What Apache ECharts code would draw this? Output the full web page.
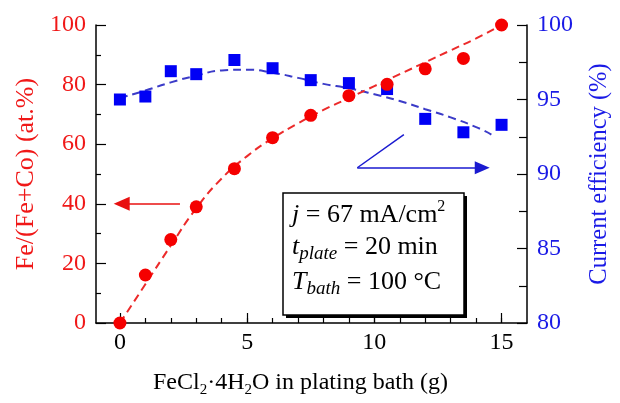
<!DOCTYPE html>
<html><head><meta charset="utf-8">
<script src="https://cdn.jsdelivr.net/npm/echarts@6/dist/echarts.min.js"></script>
<style>html,body{margin:0;padding:0;background:#fff}#c{width:620px;height:403px}</style>
</head><body><div id="c"></div>
<script>
// ---- data ----
const feclGrams = [0, 1, 2, 3, 4.5, 6, 7.5, 9, 10.5, 12, 13.5, 15];
const feContent = [0, 16.1, 28, 39, 51.8, 62.2, 69.7, 76.3, 80.1, 85.3, 88.8, 100];
const currentEff = [95.0, 95.2, 96.9, 96.7, 97.65, 97.1, 96.3, 96.1, 95.7, 93.7, 92.8, 93.3];
const feFitX = [0, 1, 2, 3, 4, 5, 6, 7, 8, 9, 10, 11, 12, 13, 14, 15];
const feFitY = [0, 13, 26, 38.5, 48.5, 56, 62, 67, 71.5, 75.5, 79.5, 83.5, 87.5, 91.5, 95.5, 100];
const ceFitX = [0, 1, 2, 3, 4, 5, 6, 7, 8, 9, 10, 11, 12, 13, 14, 14.6];
const ceFitY = [95.1, 95.6, 96.15, 96.6, 96.95, 97.0, 96.8, 96.45, 96.05, 95.75, 95.35, 94.9, 94.35, 93.8, 93.15, 92.65];
const xMajorTicks = [0, 5, 10, 15];
const xMinorTicks = [0, 1, 2, 3, 4, 5, 6, 7, 8, 9, 10, 11, 12, 13, 14, 15];
const redArrow = [[2.36, 40], [0.07, 40]];
const blueArrowDiag = [[11.16, 92.65], [9.33, 90.42]];
const blueArrow = [[9.33, 90.42], [14.24, 90.42]];

const pair = (xs, ys) => xs.map((x, i) => [x, ys[i]]);
const FONT = '"Liberation Serif", "DejaVu Serif", serif';
const RED = '#f01818', BLUE = '#1a1ae6';

const chart = echarts.init(document.getElementById('c'));
const xBase = {
  type: 'value', min: -0.94, max: 16, position: 'bottom',
  splitLine: { show: false }
};
chart.setOption({
  animation: false,
  grid: { left: 96, right: 93, top: 25, bottom: 71 },
  xAxis: [
    Object.assign({}, xBase, {
      axisLine: { onZero: false, lineStyle: { color: '#000', width: 1.5 } },
      axisTick: { inside: true, length: 10, customValues: xMajorTicks, lineStyle: { color: '#000', width: 1.2 } },
      axisLabel: { customValues: xMajorTicks, color: '#000', fontFamily: FONT, fontSize: 24, margin: 8 },
      name: '{n|FeCl}{s|2}{n|·4H}{s|2}{n|O in plating bath (g)}',
      nameLocation: 'middle', nameGap: 45,
      nameTextStyle: {
        padding: [0, 22, 0, 0],
        rich: {
          n: { fontFamily: FONT, fontSize: 24, color: '#000', lineHeight: 30 },
          s: { fontFamily: FONT, fontSize: 15, color: '#000', lineHeight: 14, verticalAlign: 'bottom' }
        }
      }
    }),
    Object.assign({}, xBase, {
      axisLine: { show: false, onZero: false },
      axisTick: { inside: true, length: 5, customValues: xMinorTicks, lineStyle: { color: '#000', width: 1.2 } },
      axisLabel: { show: false }
    })
  ],
  yAxis: [
    {
      type: 'value', min: 0, max: 100, interval: 20, position: 'left',
      splitLine: { show: false },
      axisLine: { show: true, onZero: false, lineStyle: { color: '#000', width: 1.5 } },
      axisTick: { show: true, inside: true, length: 10, lineStyle: { color: '#000', width: 1.2 } },
      minorTick: { show: true, splitNumber: 2, length: 5, lineStyle: { color: '#000', width: 1.2 } },
      axisLabel: { color: RED, fontFamily: FONT, fontSize: 24, margin: 10 },
      name: 'Fe/(Fe+Co) (at.%)', nameLocation: 'middle', nameGap: 54,
      nameTextStyle: { color: RED, fontFamily: FONT, fontSize: 26 }
    },
    {
      type: 'value', min: 80, max: 100, interval: 5, position: 'right',
      splitLine: { show: false },
      axisLine: { show: true, onZero: false, lineStyle: { color: '#000', width: 1.5 } },
      axisTick: { show: true, inside: true, length: 10, lineStyle: { color: '#000', width: 1.2 } },
      minorTick: { show: true, splitNumber: 2, length: 8, lineStyle: { color: '#000', width: 1.2 } },
      axisLabel: { color: BLUE, fontFamily: FONT, fontSize: 24, margin: 10 },
      name: 'Current efficiency (%)', nameLocation: 'middle', nameGap: 60,
      nameTextStyle: { color: BLUE, fontFamily: FONT, fontSize: 24.5 }
    }
  ],
  series: [
    {
      type: 'line', yAxisIndex: 1, data: pair(ceFitX, ceFitY), smooth: true,
      showSymbol: false, z: 2,
      lineStyle: { color: '#3b3bc8', width: 2, type: [8, 5] }
    },
    {
      type: 'scatter', yAxisIndex: 1, data: pair(feclGrams, currentEff),
      symbol: 'rect', symbolSize: 12, z: 3,
      itemStyle: { color: '#0000f5', opacity: 1 },
      markLine: {
        silent: true, animation: false, label: { show: false },
        lineStyle: { color: '#1a1ad0', width: 1.5, type: 'solid' },
        data: [
          [{ coord: blueArrowDiag[0], symbol: 'none' }, { coord: blueArrowDiag[1], symbol: 'none' }],
          [{ coord: blueArrow[0], symbol: 'none' }, { coord: blueArrow[1], symbol: 'triangle', symbolSize: [13, 15] }]
        ]
      }
    },
    {
      type: 'line', yAxisIndex: 0, data: pair(feFitX, feFitY), smooth: true,
      showSymbol: false, z: 4,
      lineStyle: { color: '#ec2a2a', width: 2, type: [8, 5] }
    },
    {
      type: 'scatter', yAxisIndex: 0, data: pair(feclGrams, feContent),
      symbol: 'circle', symbolSize: 13, z: 5,
      itemStyle: { color: '#f50000', opacity: 1 },
      markLine: {
        silent: true, animation: false, label: { show: false },
        lineStyle: { color: '#e81010', width: 1.5, type: 'solid' },
        data: [
          [{ coord: redArrow[0], symbol: 'none' }, { coord: redArrow[1], symbol: 'triangle', symbolSize: [14, 16] }]
        ]
      }
    }
  ],
  graphic: [
    { type: 'rect', shape: { x: 286, y: 196, width: 181, height: 122 }, style: { fill: '#000' }, z: 10 },
    { type: 'rect', shape: { x: 283, y: 193, width: 181, height: 122 }, style: { fill: '#fff', stroke: '#000', lineWidth: 1.5 }, z: 11 },
    {
      type: 'text', x: 292, y: 199, z: 12,
      style: {
        text: '{i|j}{n| = 67 mA/cm}{sup|2}',
        rich: {
          i: { fontFamily: FONT, fontSize: 26, fontStyle: 'italic', lineHeight: 32 },
          n: { fontFamily: FONT, fontSize: 26, lineHeight: 32 },
          sup: { fontFamily: FONT, fontSize: 16, lineHeight: 14, verticalAlign: 'top' }
        }
      }
    },
    {
      type: 'text', x: 292, y: 231, z: 12,
      style: {
        text: '{i|t}{is|plate}{n| = 20 min}',
        rich: {
          i: { fontFamily: FONT, fontSize: 26, fontStyle: 'italic', lineHeight: 32 },
          is: { fontFamily: FONT, fontSize: 19, fontStyle: 'italic', lineHeight: 18, verticalAlign: 'bottom' },
          n: { fontFamily: FONT, fontSize: 26, lineHeight: 32 }
        }
      }
    },
    {
      type: 'text', x: 292, y: 266, z: 12,
      style: {
        text: '{i|T}{is|bath}{n| = 100 °C}',
        rich: {
          i: { fontFamily: FONT, fontSize: 26, fontStyle: 'italic', lineHeight: 32 },
          is: { fontFamily: FONT, fontSize: 19, fontStyle: 'italic', lineHeight: 18, verticalAlign: 'bottom' },
          n: { fontFamily: FONT, fontSize: 26, lineHeight: 32 }
        }
      }
    }
  ]
});
</script>
</body></html>
